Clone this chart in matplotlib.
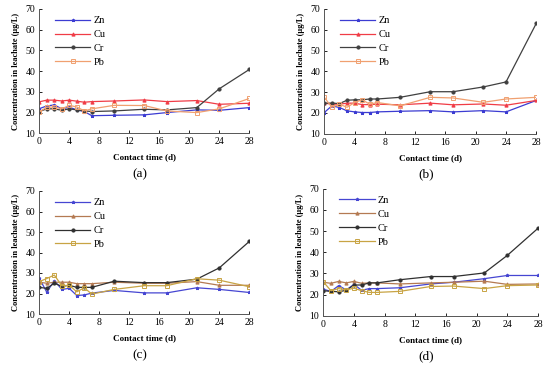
import matplotlib
matplotlib.use("Agg")
import matplotlib.pyplot as plt

plt.rcParams['font.family'] = ['Liberation Serif', 'DejaVu Serif']

days = [0, 1, 2, 3, 4, 5, 6, 7, 10, 14, 17, 21, 24, 28]
metals = ["Zn", "Cu", "Cr", "Pb"]

# concentrations (ug/L)
zn_a = [21.9, 23.2, 23.7, 21.8, 22.6, 21.3, 20.5, 18.5, 18.7, 18.9, 20.0, 21.3, 21.1, 22.4]
cu_a = [25.2, 26.0, 26.0, 25.6, 26.0, 25.5, 25.0, 25.3, 25.6, 26.1, 25.3, 25.8, 24.0, 24.5]
cr_a = [20.5, 21.8, 21.8, 21.1, 21.8, 21.3, 20.8, 20.5, 20.8, 21.6, 21.3, 22.4, 31.5, 40.8]
pb_a = [20.3, 22.6, 22.7, 21.8, 23.5, 22.7, 20.8, 21.8, 23.5, 23.4, 20.8, 20.0, 21.8, 26.8]

zn_b = [20.2, 23.4, 22.6, 21.0, 20.5, 20.2, 20.2, 20.5, 20.8, 21.1, 20.5, 21.1, 20.5, 26.0]
cu_b = [24.7, 24.2, 24.2, 24.7, 24.7, 24.0, 24.0, 24.2, 23.9, 24.7, 23.9, 24.3, 23.7, 26.0]
cr_b = [24.7, 24.7, 24.5, 26.1, 26.3, 26.3, 26.7, 26.7, 27.5, 30.2, 30.2, 32.5, 34.9, 63.1]
pb_b = [27.5, 22.7, 24.2, 22.7, 25.0, 26.3, 24.2, 25.0, 23.4, 27.5, 27.2, 25.1, 26.7, 27.5]

zn_c = [27.4, 20.6, 26.3, 22.0, 22.5, 19.0, 19.3, 20.2, 21.5, 20.3, 20.3, 22.8, 22.0, 20.5]
cu_c = [25.5, 25.0, 25.5, 25.5, 25.5, 24.8, 24.8, 24.8, 25.5, 25.0, 25.0, 25.8, 24.0, 24.0]
cr_c = [23.0, 22.5, 25.0, 23.5, 24.0, 23.0, 23.0, 23.0, 26.0, 25.3, 25.3, 27.0, 32.5, 45.4]
pb_c = [25.8, 27.3, 29.0, 23.8, 24.0, 20.8, 22.8, 19.7, 22.0, 23.8, 23.8, 27.2, 26.5, 23.3]

zn_d = [22.5, 21.5, 24.2, 22.2, 24.8, 22.0, 22.8, 22.8, 23.2, 25.0, 25.8, 27.5, 29.0, 29.0]
cu_d = [25.8, 25.3, 26.2, 25.5, 26.2, 25.3, 25.5, 25.5, 25.0, 25.5, 25.8, 26.3, 24.8, 25.0]
cr_d = [21.8, 21.5, 21.3, 22.0, 24.5, 24.5, 25.5, 25.5, 27.0, 28.5, 28.5, 30.2, 38.5, 51.3]
pb_d = [26.0, 21.8, 22.8, 22.2, 23.0, 21.8, 21.0, 21.0, 21.5, 23.8, 24.0, 22.8, 24.2, 24.5]

panels = [
    ("(a)", [zn_a, cu_a, cr_a, pb_a]),
    ("(b)", [zn_b, cu_b, cr_b, pb_b]),
    ("(c)", [zn_c, cu_c, cr_c, pb_c]),
    ("(d)", [zn_d, cu_d, cr_d, pb_d]),
]

colors_top = ["#3c3cd2", "#f03c46", "#404040", "#f0a070"]
colors_bot = ["#4646d2", "#b47a52", "#303030", "#c8a444"]
markers = ["*", "^", "o", "s"]

W, H = 550, 366
# axes boxes in pixels: left, top, right, bottom
boxes = [
    (39.3, 9.0, 249.3, 133.3),
    (324.3, 9.0, 536.3, 133.7),
    (39.3, 191.0, 249.3, 314.0),
    (323.3, 188.7, 538.0, 315.7),
]

fig = plt.figure(figsize=(W / 100, H / 100), dpi=100)

for i, (tag, series) in enumerate(panels):
    l, t, r, b = boxes[i]
    ax = fig.add_axes([l / W, 1 - b / H, (r - l) / W, (b - t) / H])
    cols = colors_top if i < 2 else colors_bot
    for name, vals, c, m in zip(metals, series, cols, markers):
        face = "none" if m == "s" else c
        ax.plot(days, vals, color=c, lw=0.9, marker=m, ms=2.3 if m != "s" else 3.0,
                mfc=face, mec=c, mew=0.7, label=name)
    ax.set_xlim(0, 28)
    ax.set_ylim(10, 70)
    ax.set_xticks(range(0, 29, 4))
    ax.set_yticks(range(10, 71, 10))
    ax.tick_params(direction="in", length=2, width=0.6, labelsize=7, pad=3)
    for s in ["top", "right"]:
        ax.spines[s].set_visible(False)
    for s in ["left", "bottom"]:
        ax.spines[s].set_linewidth(0.7)
        ax.spines[s].set_color("#555555")
    ax.set_xlabel("Contact time (d)", fontsize=6.5, fontweight="bold", labelpad=5)
    ax.set_ylabel("Concentration in leachate (μg/L)", fontsize=6, fontweight="bold", labelpad=4)
    ax.legend(loc="upper left", bbox_to_anchor=(0.03, 1.02), frameon=False, fontsize=7.5,
              handlelength=3.4, handletextpad=0.3, labelspacing=0.45)
    cx = (l + r) / 2 - 4
    ty = b + 41
    fig.text(cx / W, 1 - ty / H, tag, fontsize=9.5, ha="center", va="center")

fig.savefig("out.png", dpi=100)
